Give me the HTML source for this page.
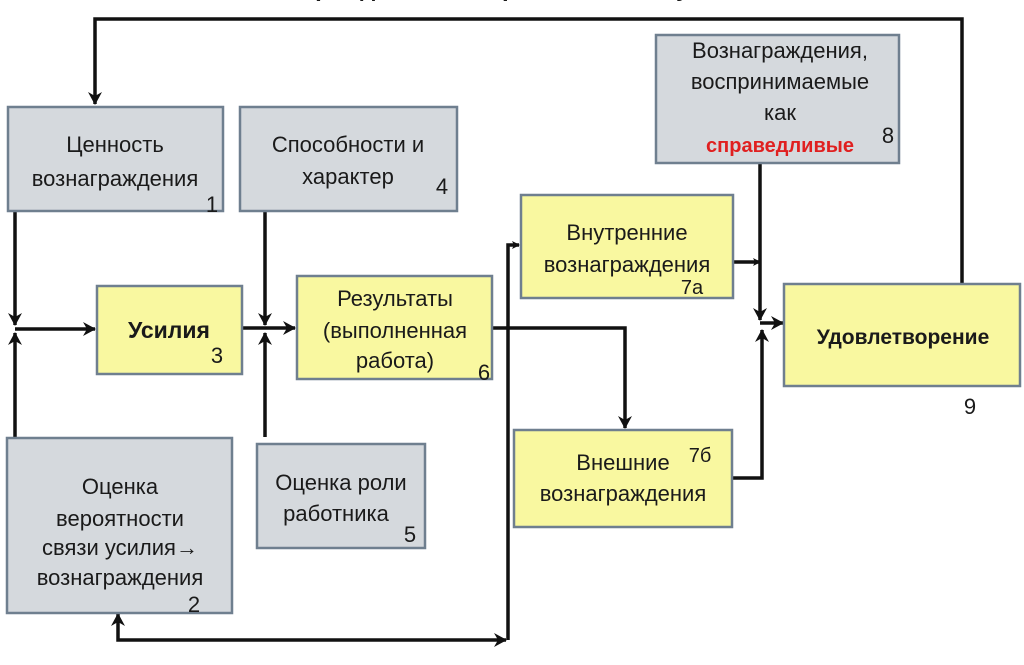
<!DOCTYPE html>
<html><head><meta charset="utf-8"><style>
html,body{margin:0;padding:0;background:#fff;}
svg{display:block;}
text{font-family:"Liberation Sans","DejaVu Sans",sans-serif;fill:#1a1a1a;}
</style></head><body>
<svg width="1024" height="665" viewBox="0 0 1024 665" xmlns="http://www.w3.org/2000/svg">
<defs>
<marker id="a" markerWidth="8" markerHeight="8" refX="7" refY="4" orient="auto" markerUnits="userSpaceOnUse">
<path d="M0,0 L8,4 L0,8 L2,4 z" fill="#111"/></marker>
<marker id="b" markerWidth="14" markerHeight="14" refX="12" refY="7" orient="auto" markerUnits="userSpaceOnUse">
<path d="M0,0 L13,7 L0,14 L4,7 z" fill="#111"/></marker>
</defs>
<text x="512" y="-4" font-size="24" font-weight="bold" text-anchor="middle">Вознаграждения, воспринимаемые субъектом</text>
<g stroke="#111" stroke-width="3.5" fill="none">
<polyline points="962,284 962,19 95,19 95,104" marker-end="url(#b)"/>
<polyline points="15,211 15,325" marker-end="url(#b)"/>
<polyline points="15,437 15,333" marker-end="url(#b)"/>
<polyline points="15,329 95,329" marker-end="url(#b)"/>
<polyline points="265,211 265,325" marker-end="url(#b)"/>
<polyline points="265,437 265,333" marker-end="url(#b)"/>
<polyline points="242,328 295,328" marker-end="url(#b)"/>
<polyline points="492,328 625,328 625,428" marker-end="url(#b)"/>
<polyline points="508,640 508,245 519,245" marker-end="url(#a)"/>
<polyline points="118,616 118,640 506,640" marker-end="url(#b)"/>
<line x1="118" y1="616" x2="118" y2="614" marker-end="url(#b)"/>
<polyline points="733,262 760,262" marker-end="url(#a)"/>
<polyline points="760,163 760,320" marker-end="url(#b)"/>
<polyline points="732,478 762,478 762,330" marker-end="url(#b)"/>
<polyline points="760,323 783,323" marker-end="url(#b)"/>
</g>
<g fill="#d5d9dd" stroke="#6f7f8f" stroke-width="2.5">
<rect x="8" y="107" width="215" height="104"/>
<rect x="240" y="107" width="217" height="104"/>
<rect x="656" y="35" width="243" height="128"/>
<rect x="7" y="438" width="225" height="175"/>
<rect x="257" y="444" width="168" height="104"/>
</g>
<g fill="#f9f8a0" stroke="#6f7f8f" stroke-width="2.5">
<rect x="97" y="286" width="145" height="88"/>
<rect x="297" y="276" width="195" height="103"/>
<rect x="521" y="195" width="212" height="103"/>
<rect x="784" y="284" width="236" height="102"/>
<rect x="514" y="430" width="218" height="97"/>
</g>
<g font-size="22" text-anchor="middle">
<text x="115" y="152">Ценность</text>
<text x="115" y="186">вознаграждения</text>
<text x="212" y="212" font-family="Liberation Serif,serif" font-size="22">1</text>
<text x="348" y="152">Способности и</text>
<text x="348" y="184">характер</text>
<text x="442" y="194" font-family="Liberation Serif,serif" font-size="22">4</text>
<text x="780" y="58">Вознаграждения,</text>
<text x="780" y="89">воспринимаемые</text>
<text x="780" y="120">как</text>
<text x="780" y="152" style="fill:#e02020" font-weight="bold" font-size="20">справедливые</text>
<text x="888" y="143" font-family="Liberation Serif,serif" font-size="22">8</text>
<text x="169" y="338" font-weight="bold" font-size="23">Усилия</text>
<text x="217" y="363" font-family="Liberation Serif,serif" font-size="22">3</text>
<text x="395" y="306">Результаты</text>
<text x="395" y="338">(выполненная</text>
<text x="395" y="368">работа)</text>
<text x="484" y="380" font-family="Liberation Serif,serif" font-size="22">6</text>
<text x="627" y="240">Внутренние</text>
<text x="627" y="272">вознаграждения</text>
<text x="692" y="294" font-family="Liberation Serif,serif" font-size="20">7а</text>
<text x="903" y="344" font-weight="bold" font-size="21">Удовлетворение</text>
<text x="970" y="414" font-family="Liberation Serif,serif" font-size="22">9</text>
<text x="623" y="470">Внешние</text>
<text x="623" y="501">вознаграждения</text>
<text x="700" y="462" font-family="Liberation Serif,serif" font-size="20">7б</text>
<text x="120" y="494">Оценка</text>
<text x="120" y="526">вероятности</text>
<text x="120" y="555">связи усилия→</text>
<text x="120" y="585">вознаграждения</text>
<text x="194" y="612" font-family="Liberation Serif,serif" font-size="22">2</text>
<text x="341" y="490">Оценка роли</text>
<text x="336" y="521">работника</text>
<text x="410" y="542" font-family="Liberation Serif,serif" font-size="22">5</text>
</g>
</svg>
</body></html>
